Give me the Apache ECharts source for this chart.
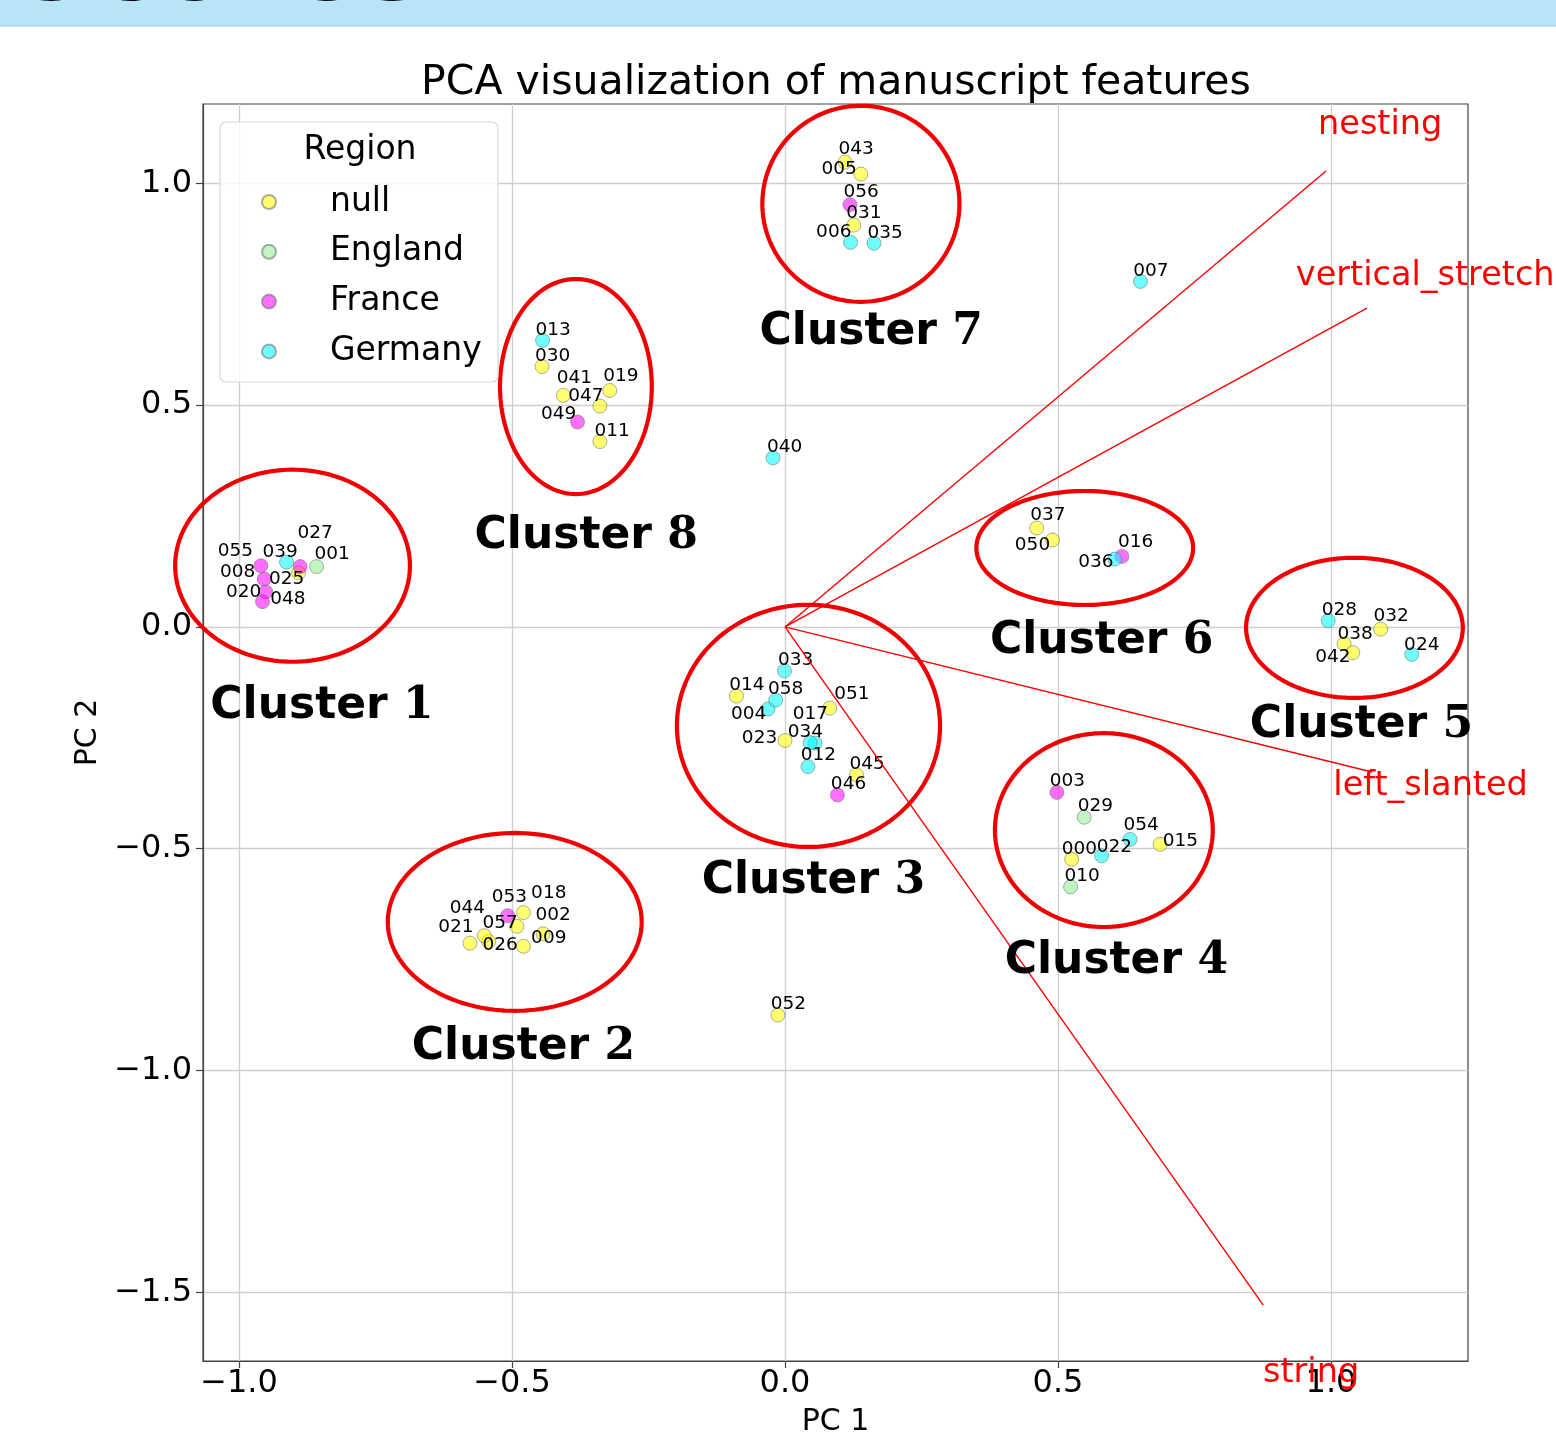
<!DOCTYPE html>
<html><head><meta charset="utf-8">
<script src="https://cdn.jsdelivr.net/npm/echarts@6/dist/echarts.min.js"></script>
<style>html,body{margin:0;padding:0;background:#fff}#c{width:1556px;height:1453px}</style>
</head><body><div id="c"></div>
<script>
// ---------- data ----------
const ids = ['000','001','002','003','004','005','006','007','008','009','010','011','012','013','014','015','016','017','018','019','020','021','022','023','024','025','026','027','028','029','030','031','032','033','034','035','036','037','038','039','040','041','042','043','044','045','046','047','048','049','050','051','052','053','054','055','056','057','058'];
const pc1 = [0.525,-0.858,-0.443,0.498,-0.031,0.139,0.120,0.651,-0.954,-0.479,0.523,-0.339,0.042,-0.444,-0.089,0.687,0.617,0.055,-0.479,-0.321,-0.951,-0.577,0.580,0.000,1.148,-0.891,-0.543,-0.888,0.995,0.548,-0.445,0.126,1.091,-0.001,0.046,0.163,0.604,0.461,1.024,-0.913,-0.022,-0.406,1.040,0.110,-0.551,0.131,0.096,-0.339,-0.957,-0.380,0.490,0.082,-0.013,-0.508,0.632,-0.960,0.119,-0.491,-0.017];
const pc2 = [-0.524,0.136,-0.692,-0.373,-0.185,1.021,0.867,0.779,0.108,-0.720,-0.586,0.418,-0.315,0.646,-0.156,-0.490,0.159,-0.262,-0.644,0.533,0.079,-0.713,-0.516,-0.256,-0.062,0.122,-0.709,0.136,0.014,-0.429,0.587,0.906,-0.005,-0.099,-0.261,0.865,0.153,0.223,-0.038,0.146,0.381,0.522,-0.058,1.048,-0.696,-0.333,-0.379,0.498,0.057,0.462,0.196,-0.183,-0.875,-0.651,-0.479,0.138,0.952,-0.675,-0.165];
const region = ['null','England','null','France','Germany','null','Germany','Germany','France','null','England','null','Germany','Germany','null','null','France','Germany','null','null','France','null','Germany','null','Germany','null','null','France','Germany','England','null','null','null','Germany','Germany','Germany','Germany','null','null','Germany','Germany','null','null','null','null','null','France','null','France','France','null','null','null','France','Germany','France','France','null','Germany'];
// label anchor (data coords: left edge, vertical middle)
const labelX = [0.507,-0.862,-0.457,0.485,-0.099,0.067,0.057,0.638,-1.035,-0.465,0.512,-0.349,0.029,-0.457,-0.102,0.692,0.610,0.014,-0.465,-0.333,-1.024,-0.635,0.571,-0.079,1.134,-0.945,-0.554,-0.893,0.983,0.536,-0.458,0.112,1.078,-0.013,0.005,0.151,0.537,0.449,1.012,-0.957,-0.033,-0.418,0.971,0.098,-0.614,0.118,0.084,-0.397,-0.943,-0.447,0.421,0.090,-0.026,-0.537,0.620,-1.039,0.107,-0.554,-0.031];
const labelY = [-0.501,0.163,-0.651,-0.347,-0.196,1.032,0.890,0.803,0.123,-0.702,-0.563,0.442,-0.290,0.670,-0.131,-0.484,0.191,-0.196,-0.601,0.566,0.078,-0.678,-0.497,-0.251,-0.042,0.107,-0.717,0.211,0.038,-0.405,0.610,0.933,0.024,-0.076,-0.238,0.887,0.145,0.251,-0.016,0.168,0.406,0.560,-0.069,1.077,-0.634,-0.309,-0.355,0.521,0.063,0.479,0.185,-0.151,-0.850,-0.610,-0.447,0.171,0.980,-0.669,-0.140];

const regions = ['null','England','France','Germany'];

const loadingNames = ['nesting','vertical_stretch','left_slanted','string'];
const loadingPC1 = [0.991,1.066,1.075,0.876];
const loadingPC2 = [1.028,0.719,-0.327,-1.529];

const clusterNames = ['Cluster 1','Cluster 2','Cluster 3','Cluster 4','Cluster 5','Cluster 6','Cluster 7','Cluster 8'];
const clusterCX = [-0.902,-0.495,0.043,0.584,1.043,0.549,0.139,-0.383];
const clusterCY = [0.138,-0.665,-0.223,-0.458,-0.002,0.178,0.954,0.542];
const clusterW  = [0.430,0.465,0.482,0.399,0.397,0.397,0.361,0.278];
const clusterH  = [0.433,0.401,0.546,0.437,0.316,0.257,0.442,0.485];
const clusterLabelX = [-0.848,-0.479,0.052,0.607,1.056,0.580,0.158,-0.364];
const clusterLabelY = [-0.180,-0.949,-0.573,-0.755,-0.223,-0.034,0.663,0.203];

const xTicks = [-1.0,-0.5,0.0,0.5,1.0];
const yTicks = [-1.5,-1.0,-0.5,0.0,0.5,1.0];
const xRange = [-1.066, 1.251];
const yRange = [-1.655, 1.179];

// ---------- styling ----------
const FONT = '"DejaVu Sans", "Liberation Sans", sans-serif';
const regionFill = {null:'rgba(255,255,0,0.7)', England:'rgba(144,238,144,0.7)', France:'rgba(255,0,255,0.7)', Germany:'rgba(0,255,255,0.7)'};
const fmt = ticks => v => ticks.some(t => Math.abs(t - v) < 1e-6) ? v.toFixed(1).replace('-', '\u2212') : '';

const pointSeries = regions.map(r => ({
  type: 'scatter', name: r, z: 3,
  symbol: 'circle', symbolSize: 14,
  itemStyle: {color: regionFill[r], borderColor: 'rgba(110,110,110,0.7)', borderWidth: 1},
  data: ids.map((id, i) => region[i] === r ? [pc1[i], pc2[i]] : null).filter(d => d),
  silent: true
}));

const labelSeries = {
  type: 'custom', z: 4, clip: false, silent: true,
  encode: {x: 0, y: 1},
  data: ids.map((id, i) => [labelX[i], labelY[i]]),
  renderItem: (params, api) => {
    const p = api.coord([api.value(0), api.value(1)]);
    return {type: 'text', x: p[0], y: p[1],
      style: {text: ids[params.dataIndex], fill: '#000', fontSize: 18.5, fontFamily: FONT, align: 'left', verticalAlign: 'middle'}};
  }
};

const loadingLineSeries = {
  type: 'custom', z: 5, clip: false, silent: true,
  encode: {x: 0, y: 1},
  data: loadingNames.map((n, i) => [loadingPC1[i], loadingPC2[i]]),
  renderItem: (params, api) => {
    const o = api.coord([0, 0]);
    const e = api.coord([api.value(0), api.value(1)]);
    return {type: 'line', shape: {x1: o[0], y1: o[1], x2: e[0], y2: e[1]}, style: {stroke: '#ff0000', lineWidth: 1.4}};
  }
};

const loadingLabelSeries = {
  type: 'custom', z: 6, clip: false, silent: true,
  encode: {x: 0, y: 1},
  data: loadingNames.map((n, i) => [loadingPC1[i] * 1.1, loadingPC2[i] * 1.1]),
  renderItem: (params, api) => {
    const p = api.coord([api.value(0), api.value(1)]);
    return {type: 'text', x: p[0], y: p[1],
      style: {text: loadingNames[params.dataIndex], fill: '#ff0000', fontSize: 33.5, fontFamily: FONT, align: 'center', verticalAlign: 'middle'}};
  }
};

const ellipseSeries = {
  type: 'custom', z: 7, clip: false, silent: true,
  encode: {x: 0, y: 1},
  data: clusterNames.map((n, i) => [clusterCX[i], clusterCY[i], clusterW[i], clusterH[i]]),
  renderItem: (params, api) => {
    const c = api.coord([api.value(0), api.value(1)]);
    const s = api.size([api.value(2), api.value(3)]);
    const rx = s[0] / 2, ry = s[1] / 2;
    const pts = [];
    for (let k = 0; k < 160; k++) {
      const a = k / 160 * Math.PI * 2;
      pts.push([c[0] + rx * Math.cos(a), c[1] + ry * Math.sin(a)]);
    }
    return {type: 'polygon', shape: {points: pts}, style: {fill: 'none', stroke: '#f00000', lineWidth: 4.2}};
  }
};

const clusterLabelSeries = {
  type: 'custom', z: 8, clip: false, silent: true,
  encode: {x: 0, y: 1},
  data: clusterNames.map((n, i) => [clusterLabelX[i], clusterLabelY[i]]),
  renderItem: (params, api) => {
    const p = api.coord([api.value(0), api.value(1)]);
    const name = clusterNames[params.dataIndex];
    const sp = name.lastIndexOf(' ');
    return {type: 'text', x: p[0], y: p[1],
      style: {
        text: '{a|' + name.slice(0, sp + 1) + '}{b|' + name.slice(sp + 1) + '}',
        align: 'center', verticalAlign: 'middle',
        rich: {
          a: {fontSize: 44, fontWeight: 'bold', fontFamily: FONT, fill: '#000'},
          b: {fontSize: 44, fontWeight: 'bold', fontFamily: '"DejaVu Serif", serif', fill: '#000'}
        }
      }};
  }
};

const chart = echarts.init(document.getElementById('c'), null, {renderer: 'canvas'});
chart.setOption({
  animation: false,
  backgroundColor: '#ffffff',
  title: {
    text: 'PCA visualization of manuscript features',
    left: 836, top: 63, textAlign: 'center', padding: 0,
    textStyle: {fontSize: 41, fontWeight: 'normal', color: '#000', fontFamily: FONT, lineHeight: 41}
  },
  grid: {left: 203, right: 88, top: 104, bottom: 92, containLabel: false, outerBoundsMode: 'none',
    show: true, borderColor: '#444', borderWidth: 1.2, backgroundColor: 'transparent'},
  xAxis: {
    type: 'value', min: xRange[0], max: xRange[1],
    name: 'PC 1', nameLocation: 'middle', nameGap: 46,
    nameTextStyle: {fontSize: 30, color: '#000', fontFamily: FONT, lineHeight: 30},
    axisLine: {show: true, onZero: false, lineStyle: {color: '#444', width: 1.2}},
    axisTick: {show: true, length: 7, customValues: xTicks, lineStyle: {color: '#444', width: 1.2}},
    axisLabel: {fontSize: 32, color: '#000', fontFamily: FONT, margin: 7, customValues: xTicks, formatter: fmt(xTicks)},
    splitLine: {show: true, lineStyle: {color: '#cfcfcf', width: 1.3}}
  },
  yAxis: {
    type: 'value', min: yRange[0], max: yRange[1],
    name: 'PC 2', nameLocation: 'middle', nameGap: 96,
    nameTextStyle: {fontSize: 30, color: '#000', fontFamily: FONT, lineHeight: 30},
    axisLine: {show: true, onZero: false, lineStyle: {color: '#444', width: 1.2}},
    axisTick: {show: true, length: 7, customValues: yTicks, lineStyle: {color: '#444', width: 1.2}},
    axisLabel: {fontSize: 32, color: '#000', fontFamily: FONT, margin: 11, customValues: yTicks, formatter: fmt(yTicks)},
    splitLine: {show: true, lineStyle: {color: '#cfcfcf', width: 1.3}}
  },
  legend: {
    orient: 'vertical', left: 261, top: 184, padding: 0, z: 20,
    itemWidth: 14, itemHeight: 14, itemGap: 13.8, icon: 'circle',
    data: regions,
    textStyle: {fontSize: 33, color: '#000', fontFamily: FONT, lineHeight: 36, padding: [0, 0, 0, 49]},
    selectedMode: false
  },
  graphic: [
    {type: 'rect', z: 0, shape: {x: 0, y: 0, width: 1556, height: 27}, style: {fill: '#b7e4f6'}},
    {type: 'text', z: 1, x: 12, y: -29.5, style: {text: 'Scores', fill: '#000', fontSize: 110, fontWeight: 'bold', fontFamily: FONT, align: 'left', verticalAlign: 'middle'}},
    {type: 'rect', z: 19, shape: {x: 220, y: 122, width: 278, height: 260, r: 6}, style: {fill: 'rgba(255,255,255,0.8)', stroke: '#d8d8d8', lineWidth: 1.2}},
    {type: 'text', z: 21, x: 360, y: 150, style: {text: 'Region', fill: '#000', fontSize: 33, fontFamily: FONT, align: 'center', verticalAlign: 'middle'}}
  ],
  series: [...pointSeries, labelSeries, loadingLineSeries, loadingLabelSeries, ellipseSeries, clusterLabelSeries]
});
</script></body></html>
